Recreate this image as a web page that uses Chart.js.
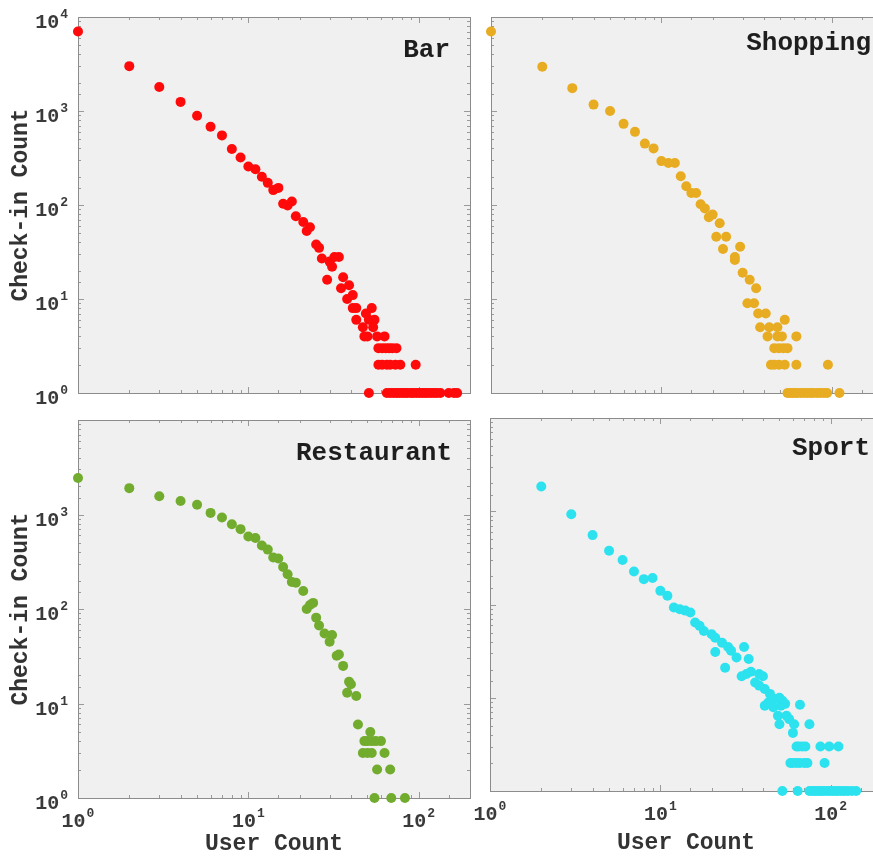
<!DOCTYPE html>
<html>
<head>
<meta charset="utf-8">
<title>Check-in Count vs User Count</title>
<script src="https://cdn.jsdelivr.net/npm/chart.js@4.4.1/dist/chart.umd.min.js"></script>
<style>
  html, body { margin: 0; padding: 0; background: #fff; overflow: hidden; }
  #wrap { position: relative; width: 873px; height: 861px; overflow: hidden; }
  #wrap canvas { position: absolute; left: 0; top: 0; }
</style>
</head>
<body>
<div id="wrap">
  <canvas id="bar" width="900" height="861"></canvas>
  <canvas id="shopping" width="900" height="861"></canvas>
  <canvas id="restaurant" width="900" height="861"></canvas>
  <canvas id="sport" width="900" height="861"></canvas>
</div>
<script>
// values (user count -> check-in count)
const barUsers = [
  1, 2, 3, 4, 5, 6, 7, 8, 9, 10,
  11, 12, 13, 14, 15, 16, 17, 18, 19, 21,
  22, 23, 25, 26, 27, 29, 30, 31, 32, 34,
  35, 36, 38, 39, 41, 41, 43, 43, 47, 48,
  49, 50, 51, 53, 54, 55, 57, 58, 58, 61,
  61, 63, 64, 65, 67, 68, 70, 73, 74, 78,
  96,
  51, 65, 68, 71, 74, 77, 80, 83, 86, 90,
  93, 97, 101, 105, 109, 113, 118, 123, 128, 134,
  150, 161, 168,
];
const barCheckins = [
  7000, 3000, 1800, 1250, 890, 680, 550, 395, 320, 257,
  240, 200, 172, 144, 152, 103, 99, 109, 76, 66,
  53, 58, 38, 35, 27, 16, 25, 22, 28, 28,
  13, 17, 10, 14, 11, 8, 8, 6, 5, 4,
  7, 4, 6, 8, 5, 6, 4, 3, 2, 3,
  2, 4, 3, 2, 3, 2, 3, 2, 3, 2,
  2,
  1, 1, 1, 1, 1, 1, 1, 1, 1, 1,
  1, 1, 1, 1, 1, 1, 1, 1, 1, 1,
  1, 1, 1,
];

const shoppingUsers = [
  1, 2, 3, 4, 5, 6, 7, 8, 9, 10,
  11, 12, 13, 14, 15, 16, 17, 18, 19, 20,
  21, 22, 23, 24, 27, 27, 29, 30, 32, 33,
  35, 36, 37, 38, 41, 42, 43, 44, 46, 46,
  48, 48, 49, 49, 51, 52, 53, 53, 55, 62,
  62, 95,
  55, 57, 59, 61, 63, 66, 69, 72, 75, 78,
  82, 86, 90, 94, 111,
];
const shoppingCheckins = [
  7000, 2950, 1750, 1170, 1000, 730, 600, 450, 400, 293,
  280, 280, 202, 158, 134, 134, 102, 92, 74, 79,
  46, 64, 34, 46, 28, 26, 36, 19, 9, 16,
  9, 13, 7, 5, 7, 4, 5, 2, 3, 2,
  4, 5, 3, 2, 4, 3, 6, 2, 3, 4,
  2, 2,
  1, 1, 1, 1, 1, 1, 1, 1, 1, 1,
  1, 1, 1, 1, 1,
];

const restaurantUsers = [
  1, 2, 3, 4, 5, 6, 7, 8, 9, 10,
  11, 12, 13, 14, 15, 16, 17, 18, 19, 21,
  22, 23, 24, 25, 26, 28, 30, 31, 33, 34,
  36, 38, 39, 40, 43, 44, 47, 48, 50, 50,
  52, 53, 53, 56, 60, 63, 57, 68,
  55, 69, 83,
];
const restaurantCheckins = [
  2430, 1900, 1560, 1390, 1270, 1040, 930, 790, 700, 585,
  565, 470, 425, 350, 343, 278, 233, 193, 190, 155,
  100, 110, 116, 81, 67, 55, 45, 53, 32, 33,
  25, 13, 17, 16, 12, 6, 3, 4, 3, 4,
  5, 4, 3, 4, 4, 3, 2, 2,
  1, 1, 1,
];

const sportUsers = [
  2, 3, 4, 5, 6, 7, 8, 9, 10, 11,
  12, 13, 14, 15, 16, 17, 18, 20, 21, 21,
  23, 24, 25, 26, 28, 30, 31, 32, 33, 34,
  36, 38, 38, 40, 41, 41, 43, 44, 46, 47,
  49, 50, 50, 51, 52, 54, 55, 57, 60, 61,
  66, 75, 63, 65, 68, 71, 87, 98, 111, 58,
  60, 63, 66, 70, 73, 92,
  52, 64, 75, 78, 81, 84, 87, 90, 94, 98,
  102, 106, 110, 115, 120, 126, 133, 141,
];
const sportCheckins = [
  1845, 930, 555, 377, 300, 226, 187, 192, 140, 124,
  93, 89, 86, 82, 64, 59, 52, 48, 44, 31,
  39, 21, 35, 32, 27, 17, 35, 18, 26, 19,
  14.6, 18, 13.5, 17, 12.4, 8.2, 8.9, 11, 7.9, 9.7,
  6.4, 10, 5.2, 8.2, 9.3, 8.6, 6.4, 5.9, 4.2, 5.2,
  8.4, 5.2, 3, 3, 3, 3, 3, 3, 3, 2,
  2, 2, 2, 2, 2, 2,
  1, 1, 1, 1, 1, 1, 1, 1, 1, 1,
  1, 1, 1, 1, 1, 1, 1, 1,
];

// axis ranges and labelled ticks
const xRange = [1, 200];
const yRange = [1, 10000];
const xTickLabels = [1, 10, 100];
const yTickLabelsTop = [1, 10, 100, 1000, 10000];
const yTickLabelsBottom = [1, 10, 100, 1000];

const FONT = "'Liberation Mono', 'DejaVu Sans Mono', monospace";
const CANVAS_W = 900;
const CANVAS_H = 861;

const panels = [
  {
    id: 'bar', name: 'Bar', users: barUsers, checkins: barCheckins, color: '#ff0a0a',
    box: { left: 78, top: 17, right: 470, bottom: 393 },
    yLabels: yTickLabelsTop, xLabels: [], yTitle: true, xTitle: false,
    nameInset: 20, nameBase: 40,
  },
  {
    id: 'shopping', name: 'Shopping', users: shoppingUsers, checkins: shoppingCheckins, color: '#e8ac22',
    box: { left: 491, top: 17, right: 883, bottom: 393 },
    yLabels: [], xLabels: [], yTitle: false, xTitle: false,
    nameInset: 12, nameBase: 33,
  },
  {
    id: 'restaurant', name: 'Restaurant', users: restaurantUsers, checkins: restaurantCheckins, color: '#72ac2e',
    box: { left: 78, top: 420, right: 470, bottom: 798 },
    yLabels: yTickLabelsBottom, xLabels: xTickLabels, yTitle: true, xTitle: true,
    nameInset: 18, nameBase: 40, titlePad: 5,
  },
  {
    id: 'sport', name: 'Sport', users: sportUsers, checkins: sportCheckins, color: '#2ce2ef',
    box: { left: 490, top: 418, right: 882, bottom: 791 },
    yLabels: [], xLabels: xTickLabels, yTitle: false, xTitle: true,
    nameInset: 12, nameBase: 37, titlePad: 6,
  },
];

function drawPower(ctx, value, x, baseY, expBaseY, align) {
  const exp = String(Math.round(Math.log10(value)));
  ctx.font = `bold 20px ${FONT}`;
  const wBase = ctx.measureText('10').width;
  ctx.font = `bold 13px ${FONT}`;
  const wExp = ctx.measureText(exp).width;
  const w = wBase + 1 + wExp;
  const x0 = align === 'right' ? x - w : x - w / 2;
  ctx.textAlign = 'left';
  ctx.textBaseline = 'alphabetic';
  ctx.font = `bold 20px ${FONT}`;
  ctx.fillText('10', x0, baseY);
  ctx.font = `bold 13px ${FONT}`;
  ctx.fillText(exp, x0 + wBase + 1, expBaseY);
}

const panelDecor = {
  id: 'panelDecor',
  beforeDraw(chart) {
    const { ctx, chartArea: a } = chart;
    ctx.save();
    ctx.fillStyle = '#f0f0f0';
    ctx.fillRect(a.left, a.top, a.right - a.left, a.bottom - a.top);
    ctx.restore();
  },
  beforeDatasetsDraw(chart) {
    const { ctx, chartArea: a, scales } = chart;
    ctx.save();
    ctx.strokeStyle = '#9a9a9a';
    ctx.lineWidth = 1;
    ctx.beginPath();
    scales.x.ticks.forEach((t) => {
      const px = Math.round(scales.x.getPixelForValue(t.value)) + 0.5;
      const len = xTickLabels.includes(t.value) ? 6 : 3;
      ctx.moveTo(px, a.bottom); ctx.lineTo(px, a.bottom - len);
      ctx.moveTo(px, a.top); ctx.lineTo(px, a.top + len);
    });
    scales.y.ticks.forEach((t) => {
      const py = Math.round(scales.y.getPixelForValue(t.value)) + 0.5;
      const len = yTickLabelsTop.includes(t.value) ? 6 : 3;
      ctx.moveTo(a.left, py); ctx.lineTo(a.left + len, py);
      ctx.moveTo(a.right, py); ctx.lineTo(a.right - len, py);
    });
    ctx.stroke();
    ctx.strokeStyle = '#8c8c8c';
    ctx.strokeRect(Math.round(a.left) + 0.5, Math.round(a.top) + 0.5,
      Math.round(a.right - a.left), Math.round(a.bottom - a.top));
    ctx.restore();
  },
  afterDraw(chart, args, opts) {
    const { ctx, chartArea: a, scales } = chart;
    ctx.save();
    ctx.fillStyle = '#3a3a3a';
    opts.yLabels.forEach((v) => {
      const py = scales.y.getPixelForValue(v);
      drawPower(ctx, v, a.left - 10, py + 11, py + 1, 'right');
    });
    opts.xLabels.forEach((v) => {
      const px = scales.x.getPixelForValue(v);
      drawPower(ctx, v, px, a.bottom + 29, a.bottom + 19, 'center');
    });
    ctx.fillStyle = '#1e1e1e';
    ctx.font = `bold 26px ${FONT}`;
    ctx.textAlign = 'right';
    ctx.textBaseline = 'alphabetic';
    ctx.fillText(opts.name, a.right - opts.inset, a.top + opts.base);
    ctx.restore();
  },
};

function makeChart(p) {
  const canvas = document.getElementById(p.id);
  const yWidth = p.yTitle ? p.box.left : 10;
  const xHeight = p.xTitle ? CANVAS_H - p.box.bottom : 6;
  const points = p.users.map((u, i) => ({ x: u, y: p.checkins[i] }));

  return new Chart(canvas, {
    type: 'scatter',
    data: {
      datasets: [{
        data: points,
        backgroundColor: p.color,
        borderWidth: 0,
        pointRadius: 5,
        pointHoverRadius: 5,
        clip: false,
      }],
    },
    options: {
      responsive: false,
      animation: false,
      events: [],
      layout: {
        padding: {
          left: p.box.left - yWidth,
          top: p.box.top,
          right: CANVAS_W - p.box.right,
          bottom: CANVAS_H - p.box.bottom - xHeight,
        },
      },
      scales: {
        x: {
          type: 'logarithmic',
          position: 'bottom',
          min: xRange[0],
          max: xRange[1],
          grid: { display: false },
          border: { display: false },
          ticks: { display: false },
          title: {
            display: p.xTitle,
            text: 'User Count',
            color: '#333',
            font: { family: FONT, size: 23, weight: 'bold', lineHeight: 1 },
            padding: { top: 0, bottom: p.titlePad || 0 },
          },
          afterFit: (scale) => { scale.height = xHeight; },
        },
        y: {
          type: 'logarithmic',
          position: 'left',
          min: yRange[0],
          max: yRange[1],
          grid: { display: false },
          border: { display: false },
          ticks: { display: false },
          title: {
            display: p.yTitle,
            text: 'Check-in Count',
            color: '#333',
            font: { family: FONT, size: 23, weight: 'bold', lineHeight: 1 },
            padding: { top: 10, bottom: 0 },
          },
          afterFit: (scale) => { scale.width = yWidth; },
        },
      },
      plugins: {
        legend: { display: false },
        tooltip: { enabled: false },
        panelDecor: {
          name: p.name,
          inset: p.nameInset,
          base: p.nameBase,
          yLabels: p.yLabels,
          xLabels: p.xLabels,
        },
      },
    },
    plugins: [panelDecor],
  });
}

panels.forEach(makeChart);
</script>
</body>
</html>
